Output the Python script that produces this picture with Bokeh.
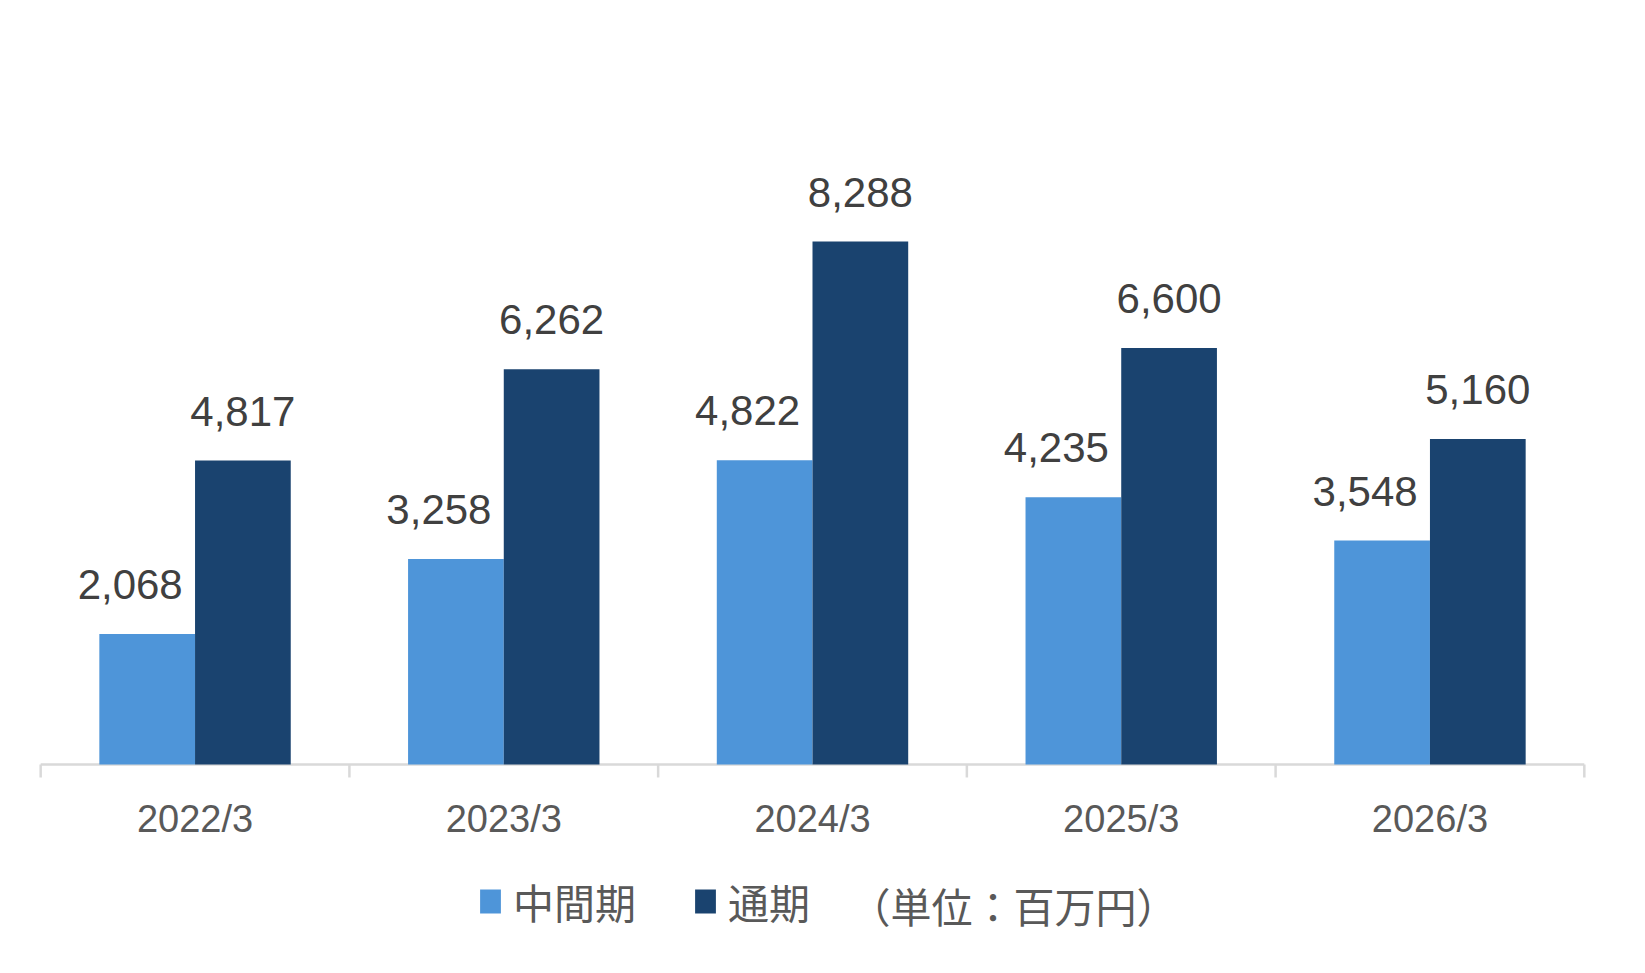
from bokeh.plotting import figure
from bokeh.models import ColumnDataSource, FactorRange, LabelSet, Legend, LegendItem, Label
from bokeh.transform import dodge
from bokeh.core.properties import value
from bokeh.embed import file_html
from bokeh.resources import INLINE

# data (millions of yen)
years = ["2022/3", "2023/3", "2024/3", "2025/3", "2026/3"]
interim = [2068, 3258, 4822, 4235, 3548]
full_year = [4817, 6262, 8288, 6600, 5160]
series_names = ["中間期", "通期"]
unit_note = "（単位：百万円）"

LIGHT = "#4E95D9"
DARK = "#1A436F"
AXIS_GREY = "#D9D9D9"
TEXT_GREY = "#595959"
LABEL_GREY = "#404040"
NUM_FONT = "Liberation Sans"
JP_FONT = "Noto Sans CJK JP"

TICK_LEN = -206  # ~13px below the baseline, in data units

src = ColumnDataSource(data=dict(
    year=years,
    mid=interim,
    full=full_year,
    mid_txt=["{:,}".format(v) for v in interim],
    full_txt=["{:,}".format(v) for v in full_year],
))

x_range = FactorRange(*years, range_padding=0.02, range_padding_units="absolute")
# frame runs down to the bottom of the canvas so the legend is not clipped
p = figure(x_range=x_range, y_range=(-3059, 10000), width=1629, height=957,
           output_backend="svg", toolbar_location=None, y_axis_location=None,
           min_border_left=34, min_border_right=39, min_border_top=133, min_border_bottom=0)
p.outline_line_color = None
p.grid.visible = False

# baseline + boundary ticks (Excel style, ticks between categories)
edges = list(range(len(years) + 1))
p.segment(x0=[edges[0]], x1=[edges[-1]], y0=[0], y1=[0], line_color=AXIS_GREY, line_width=2.5)
p.segment(x0=edges, x1=edges, y0=[0] * len(edges), y1=[TICK_LEN] * len(edges),
          line_color=AXIS_GREY, line_width=2.5)

r_mid = p.vbar(x=dodge("year", -0.155, range=p.x_range), top="mid", width=0.31,
               source=src, fill_color=LIGHT, line_color=None)
r_full = p.vbar(x=dodge("year", 0.155, range=p.x_range), top="full", width=0.31,
                source=src, fill_color=DARK, line_color=None)

for col, txt, off, xo in [("mid", "mid_txt", -0.155, -17), ("full", "full_txt", 0.155, 0)]:
    p.add_layout(LabelSet(x=dodge("year", off, range=p.x_range), y=col, text=txt, source=src,
                          x_offset=xo, y_offset=35, text_align="center", text_baseline="alphabetic",
                          text_font=value(NUM_FONT), text_font_size="42px", text_color=LABEL_GREY))

ax = p.xaxis[0]
ax.fixed_location = TICK_LEN
ax.axis_line_color = None
ax.major_tick_line_color = None
ax.minor_tick_line_color = None
ax.major_label_standoff = 15
ax.major_label_text_font = NUM_FONT
ax.major_label_text_font_size = "38px"
ax.major_label_text_color = TEXT_GREY

legend = Legend(items=[LegendItem(label=series_names[0], renderers=[r_mid]),
                       LegendItem(label=series_names[1], renderers=[r_full])],
                location=(443, 26), orientation="horizontal",
                glyph_width=26, glyph_height=30, label_standoff=10, spacing=56,
                label_text_font=JP_FONT, label_text_font_size="41px", label_text_color=TEXT_GREY,
                padding=0, margin=0, border_line_color=None, background_fill_alpha=0)
p.add_layout(legend)

p.add_layout(Label(x=815, y=53, x_units="screen", y_units="screen", text=unit_note,
                   text_baseline="middle", text_font=JP_FONT, text_font_size="41px",
                   text_color=TEXT_GREY))

open("out.html", "w").write(file_html(p, INLINE))
